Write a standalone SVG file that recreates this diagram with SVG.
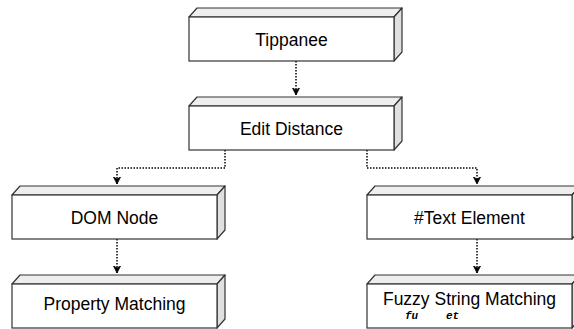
<svg xmlns="http://www.w3.org/2000/svg" width="574" height="329" viewBox="0 0 574 329">
  <style>
    .front { fill: #ffffff; stroke: #333333; stroke-width: 1.2; }
    .top { fill: #eeeeee; stroke: #333333; stroke-width: 1.2; stroke-linejoin: round; }
    .side { fill: #e0e0e0; stroke: #333333; stroke-width: 1.2; stroke-linejoin: round; }
    .label { font-family: "Liberation Sans", Arial, sans-serif; font-size: 17.5px; fill: #000000; text-anchor: middle; }
    .code { font-family: "Liberation Mono", "Courier New", monospace; font-size: 11px; font-weight: bold; font-style: italic; fill: #000000; }
    .link { fill: none; stroke: #000000; stroke-width: 1.5; stroke-dasharray: 1.5 1.5; }
  </style>
  <defs>
    <marker id="arrow" markerUnits="userSpaceOnUse" markerWidth="8" markerHeight="8" refX="7" refY="4" orient="auto">
      <path d="M0,0.5 L7,4 L0,7.5 L2,4 Z" fill="#000000" stroke="#000000" stroke-width="0.8"/>
    </marker>
  </defs>

  <!-- connectors -->
  <g id="connectors">
    <path class="link" d="M296,61 V95" marker-end="url(#arrow)"/>
    <path class="link" d="M225,150 V168 H117 V184" marker-end="url(#arrow)"/>
    <path class="link" d="M367,150 V168 H477 V184" marker-end="url(#arrow)"/>
    <path class="link" d="M117,239 V273" marker-end="url(#arrow)"/>
    <path class="link" d="M477,239 V273" marker-end="url(#arrow)"/>
  </g>

  <!-- nodes: 3D boxes, front face 205x44, depth 8x9 -->
  <g id="tippanee">
    <path class="top" d="M189,17 L197,8 L402,8 L394,17 Z"/>
    <path class="side" d="M394,17 L402,8 L402,52 L394,61 Z"/>
    <rect class="front" x="189" y="17" width="205" height="44"/>
    <text class="label" x="291.5" y="45.5">Tippanee</text>
  </g>

  <g id="edit-distance">
    <path class="top" d="M189,106 L197,97 L402,97 L394,106 Z"/>
    <path class="side" d="M394,106 L402,97 L402,141 L394,150 Z"/>
    <rect class="front" x="189" y="106" width="205" height="44"/>
    <text class="label" x="291.5" y="134.5">Edit Distance</text>
  </g>

  <g id="dom-node">
    <path class="top" d="M12,195 L20,186 L225,186 L217,195 Z"/>
    <path class="side" d="M217,195 L225,186 L225,230 L217,239 Z"/>
    <rect class="front" x="12" y="195" width="205" height="44"/>
    <text class="label" x="114.5" y="223.5">DOM Node</text>
  </g>

  <g id="text-element">
    <path class="top" d="M367,195 L375,186 L580,186 L572,195 Z"/>
    <path class="side" d="M572,195 L580,186 L580,230 L572,239 Z"/>
    <rect class="front" x="367" y="195" width="205" height="44"/>
    <text class="label" x="469.5" y="223.5">#Text Element</text>
  </g>

  <g id="property-matching">
    <path class="top" d="M12,284 L20,275 L225,275 L217,284 Z"/>
    <path class="side" d="M217,284 L225,275 L225,319 L217,328 Z"/>
    <rect class="front" x="12" y="284" width="205" height="44"/>
    <text class="label" x="114.5" y="310">Property Matching</text>
  </g>

  <g id="fuzzy-string-matching">
    <path class="top" d="M367,284 L375,275 L580,275 L572,284 Z"/>
    <path class="side" d="M572,284 L580,275 L580,319 L572,328 Z"/>
    <rect class="front" x="367" y="284" width="205" height="44"/>
    <text class="label" x="469.5" y="305">Fuzzy String Matching</text>
    <text class="code" x="405" y="319">fu</text>
    <text class="code" x="446" y="319">et</text>
  </g>
</svg>
